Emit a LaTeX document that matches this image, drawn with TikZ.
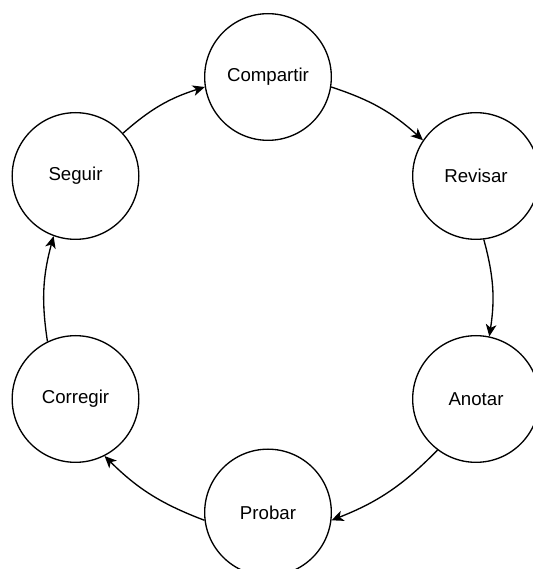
\documentclass[tikz,border=0pt]{standalone}
\usepackage{fontspec}
\setmainfont{Liberation Sans}
\usetikzlibrary{arrows.meta}
\begin{document}
\begin{tikzpicture}[x=0.75pt,y=0.75pt,
  stage/.style={circle,draw,line width=1pt,minimum size=95pt,inner sep=0pt,
    font=\fontsize{14}{16}\selectfont},
  flow/.style={line width=1pt,-{Stealth[length=9pt,width=8pt,inset=2.5pt]}}]
\useasboundingbox (0,0) rectangle (533,569);
\clip (0,0) rectangle (533,569);
\node[stage] (compartir) at (268,492) {Compartir};
\node[stage] (revisar) at (476,393) {Revisar};
\node[stage] (anotar) at (476,170) {Anotar};
\node[stage] (probar) at (268,56.5) {Probar};
\node[stage] (corregir) at (75.5,170) {Corregir};
\node[stage] (seguir) at (75.5,393) {Seguir};
\draw[flow] (seguir.42) to[bend left=12] (compartir.189);
\draw[flow] (compartir.351) to[bend left=12] (revisar.146);
\draw[flow] (revisar.277) to[bend left=12] (anotar.78);
\draw[flow] (anotar.233) to[bend left=12] (probar.353);
\draw[flow] (probar.187) to[bend left=12] (corregir.297);
\draw[flow] (corregir.116) to[bend left=12] (seguir.250);
\end{tikzpicture}
\end{document}
